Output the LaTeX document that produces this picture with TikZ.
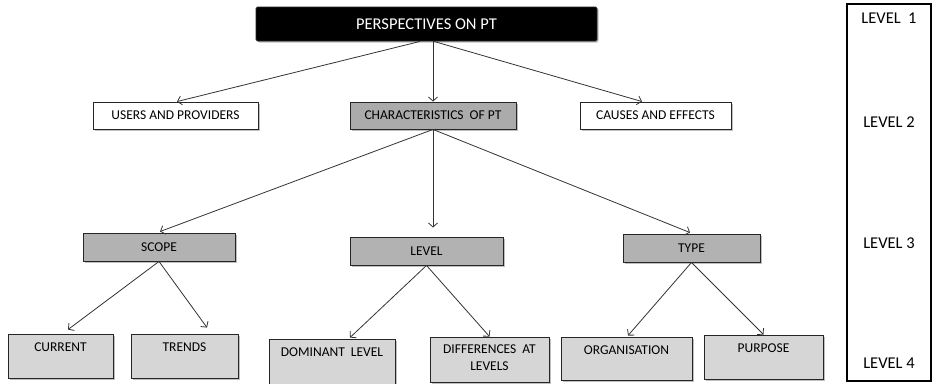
\documentclass[tikz,border=0pt]{standalone}
\usepackage{fontspec}
\setmainfont{Carlito}
\usetikzlibrary{arrows.meta,shadows}
\begin{document}
\begin{tikzpicture}[x=1pt,y=-1pt,
  base/.style={draw=black!85, line width=0.9pt, inner sep=0pt, font=\fontsize{13.5}{15}\selectfont,
    drop shadow={shadow xshift=1.5pt, shadow yshift=-1.5pt, fill=black, opacity=0.25}},
  whitebox/.style={base, fill=white},
  gbox/.style={base, fill=black!33},
  g3box/.style={base, fill=black!30},
  g4box/.style={base, fill=black!16},
  arr/.style={draw=black!80, line width=0.8pt, -{Straight Barb[length=4pt,width=9pt]}},
  lvl/.style={font=\fontsize{16.5}{18}\selectfont},
  toptxt/.style={anchor=north, font=\fontsize{13.5}{15}\selectfont, align=center}
]
\useasboundingbox (0,0) rectangle (934,383);

% level column
\node[draw=black, line width=2.6pt, minimum width=84pt, minimum height=377pt, inner sep=0pt] (col) at (889,192.5) {};
\node[lvl] (l1) at (889,18) {LEVEL\ \ 1};
\node[lvl] (l2) at (889,122) {LEVEL 2};
\node[lvl] (l3) at (889,243) {LEVEL 3};
\node[lvl] (l4) at (889,363) {LEVEL 4};

% level 1
\node[base, fill=black, text=white, rounded corners=1.5pt, minimum width=341pt, minimum height=34pt,
  font=\fontsize{16.5}{18}\selectfont] (top) at (426.5,24) {PERSPECTIVES ON PT};

% level 2
\node[whitebox, minimum width=165pt, minimum height=27pt] (up) at (175.5,115.5) {USERS AND PROVIDERS};
\node[gbox, minimum width=166pt, minimum height=27pt] (ch) at (433,115.5) {CHARACTERISTICS\ \ OF PT};
\node[whitebox, minimum width=151pt, minimum height=27pt] (ce) at (655.5,115.5) {CAUSES\ AND\ EFFECTS};

% level 3
\node[g3box, minimum width=152pt, minimum height=28pt] (sc) at (159,247) {SCOPE};
\node[g3box, minimum width=153pt, minimum height=28pt] (lv) at (426.5,251) {LEVEL};
\node[g3box, minimum width=137pt, minimum height=28pt] (ty) at (691.5,248) {TYPE};

% level 4
\node[g4box, minimum width=105pt, minimum height=44pt] (cu) at (60.5,356) {};
\node[toptxt] (cut) at ([yshift=-6pt]cu.north) {CURRENT};
\node[g4box, minimum width=107pt, minimum height=44pt] (tr) at (184.5,356) {};
\node[toptxt] (trt) at ([yshift=-6pt]tr.north) {TRENDS};
\node[g4box, minimum width=126pt, minimum height=48pt] (dl) at (332,363) {};
\node[toptxt] (dlt) at ([yshift=-6pt]dl.north) {DOMINANT\ \ LEVEL};
\node[g4box, minimum width=119pt, minimum height=45pt] (df) at (489.5,359.5) {};
\node[toptxt, font=\fontsize{13.5}{17}\selectfont] (dft) at ([yshift=-5pt]df.north) {DIFFERENCES\ \ AT\\LEVELS};
\node[g4box, minimum width=131pt, minimum height=43pt] (og) at (626.5,358.5) {};
\node[toptxt] (ogt) at ([yshift=-6pt]og.north) {ORGANISATION};
\node[g4box, minimum width=119pt, minimum height=44pt] (pu) at (763.5,357) {};
\node[toptxt] (put) at ([yshift=-6pt]pu.north) {PURPOSE};

% connectors level 1 -> 2
\draw[arr] ([xshift=-6.5pt]top.south) -- ([xshift=1.5pt]up.north);
\draw[arr] (top.south -| ch.north) -- (ch.north);
\draw[arr] ([xshift=7.5pt]top.south) -- ([xshift=-13.5pt]ce.north);

% level 2 -> 3
\draw[arr] (ch.south) -- ([xshift=1pt,yshift=1pt]sc.north);
\draw[arr] (ch.south) -- ([yshift=9pt]lv.north -| ch.south);
\draw[arr] (ch.south) -- ([xshift=-1.5pt,yshift=1pt]ty.north);

% level 3 -> 4
\draw[arr] (sc.south) -- ([xshift=7.5pt,yshift=4pt]cu.north);
\draw[arr] (sc.south) -- ([xshift=22.5pt,yshift=6pt]tr.north);
\draw[arr] (lv.south) -- ([xshift=18pt,yshift=1pt]dl.north);
\draw[arr] (lv.south) -- (df.north);
\draw[arr] (ty.south) -- ([xshift=1.5pt,yshift=1pt]og.north);
\draw[arr] (ty.south) -- (pu.north);
\end{tikzpicture}
\end{document}
